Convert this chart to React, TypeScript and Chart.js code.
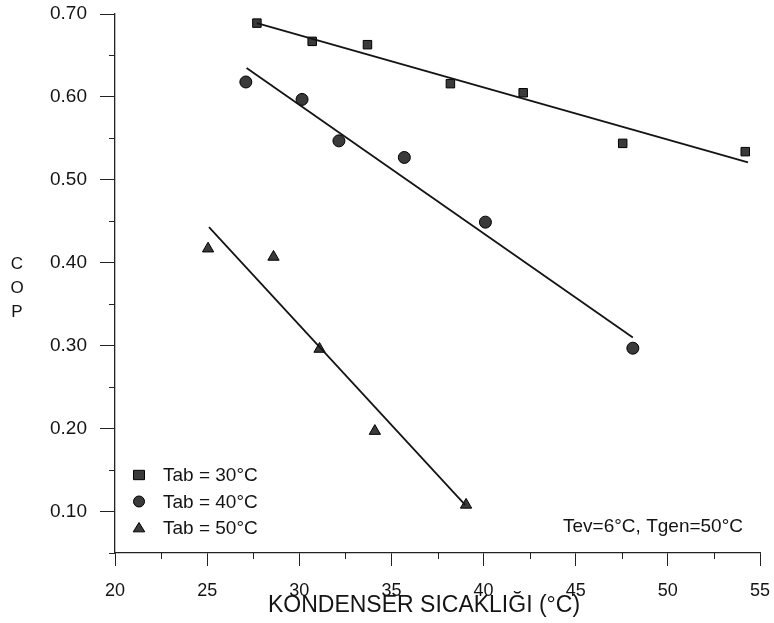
import React, { useEffect, useRef } from "react";
import { Chart, registerables } from "chart.js";

Chart.register(...registerables);

// Measured data (Kondenser sıcaklığı °C vs COP)
const temp30 = [27.7, 30.7, 33.7, 38.2, 42.15, 47.55, 54.2];
const cop30 = [0.689, 0.667, 0.663, 0.616, 0.605, 0.544, 0.534];
const temp40 = [27.1, 30.15, 32.15, 35.7, 40.1, 48.1];
const cop40 = [0.618, 0.597, 0.547, 0.527, 0.449, 0.297];
const temp50 = [25.05, 28.6, 31.1, 34.1, 39.05];
const cop50 = [0.417, 0.407, 0.296, 0.197, 0.108];

// Fitted trend lines (end points)
const fit30X = [27.7, 54.35];
const fit30Y = [0.689, 0.521];
const fit40X = [27.14, 48.1];
const fit40Y = [0.635, 0.31];
const fit50X = [25.1, 39.0];
const fit50Y = [0.443, 0.108];

// Axis ticks
const xTicks = [20, 25, 30, 35, 40, 45, 50, 55];
const xMinorTicks = [22.5, 27.5, 32.5, 37.5, 42.5, 47.5, 52.5];
const yTicks = [0.1, 0.2, 0.3, 0.4, 0.5, 0.6, 0.7];
const yMinorTicks = [0.05, 0.15, 0.25, 0.35, 0.45, 0.55, 0.65];

const legendLabels = ["Tab = 30°C", "Tab = 40°C", "Tab = 50°C"];
const pointStyles = ["rect", "circle", "triangle"];
const xTitle = "KONDENSER SICAKLIĞI (°C)";
const yTitleLetters = ["C", "O", "P"];
const noteText = "Tev=6°C, Tgen=50°C";

const FONT = "'Liberation Sans', Arial, sans-serif";
const INK = "#141414";
const MARK_FILL = "#3a3a3a";

const zip = (xs: number[], ys: number[]) => xs.map((x, i) => ({ x, y: ys[i] }));

function drawMarker(ctx: CanvasRenderingContext2D, style: string, x: number, y: number, r: number) {
  ctx.save();
  ctx.fillStyle = MARK_FILL;
  ctx.strokeStyle = "#000";
  ctx.lineWidth = 1;
  ctx.beginPath();
  if (style === "rect") {
    ctx.rect(x - r, y - r * 0.85, 2 * r, 1.7 * r);
  } else if (style === "circle") {
    ctx.arc(x, y, r, 0, Math.PI * 2);
  } else {
    ctx.moveTo(x, y - r);
    ctx.lineTo(x + r * 1.05, y + r * 0.7);
    ctx.lineTo(x - r * 1.05, y + r * 0.7);
    ctx.closePath();
  }
  ctx.fill();
  ctx.stroke();
  ctx.restore();
}

const decorPlugin = {
  id: "decor",
  afterDraw(chart: any) {
    const ctx: CanvasRenderingContext2D = chart.ctx;
    const xs = chart.scales.x;
    const ys = chart.scales.y;
    const area = chart.chartArea;
    ctx.save();
    // minor ticks
    ctx.strokeStyle = "#222";
    ctx.lineWidth = 1;
    ctx.beginPath();
    xMinorTicks.forEach((v) => {
      const px = Math.round(xs.getPixelForValue(v)) + 0.5;
      ctx.moveTo(px, area.bottom);
      ctx.lineTo(px, area.bottom + 6);
    });
    yMinorTicks.forEach((v) => {
      const py = Math.round(ys.getPixelForValue(v)) + 0.5;
      ctx.moveTo(area.left, py);
      ctx.lineTo(area.left - 6, py);
    });
    ctx.stroke();

    ctx.fillStyle = INK;
    // x title
    ctx.font = `23px ${FONT}`;
    ctx.textAlign = "center";
    ctx.textBaseline = "alphabetic";
    ctx.fillText(xTitle, 424, 612);

    // y title (stacked letters)
    ctx.font = `17px ${FONT}`;
    ctx.textBaseline = "middle";
    yTitleLetters.forEach((ch, i) => {
      ctx.fillText(ch, 17, 264 + i * 24);
    });

    // legend
    ctx.font = `19px ${FONT}`;
    ctx.textAlign = "left";
    legendLabels.forEach((lab, i) => {
      const y = 475 + i * 26.5;
      drawMarker(ctx, pointStyles[i], 139, y, 5.5);
      ctx.fillStyle = INK;
      ctx.fillText(lab, 163, y + 1);
    });

    // note
    ctx.textAlign = "right";
    ctx.fillText(noteText, 743, 527);
    ctx.restore();
  },
};

export default function App() {
  const ref = useRef<HTMLCanvasElement | null>(null);

  useEffect(() => {
    if (!ref.current) return;
    const lineDs = (xs: number[], ys: number[]) => ({
      type: "scatter" as const,
      data: zip(xs, ys),
      showLine: true,
      borderColor: INK,
      borderWidth: 1.8,
      pointRadius: 0,
      fill: false,
    });
    const markDs = (xs: number[], ys: number[], style: string) => ({
      type: "scatter" as const,
      data: zip(xs, ys),
      pointStyle: style,
      pointRadius: style === "triangle" ? 6.5 : 6,
      backgroundColor: MARK_FILL,
      borderColor: "#000",
      borderWidth: 1,
      showLine: false,
    });
    const chart = new Chart(ref.current, {
      type: "scatter",
      data: {
        datasets: [
          lineDs(fit30X, fit30Y),
          lineDs(fit40X, fit40Y),
          lineDs(fit50X, fit50Y),
          markDs(temp30, cop30, "rect"),
          markDs(temp40, cop40, "circle"),
          markDs(temp50, cop50, "triangle"),
        ] as any,
      },
      options: {
        responsive: false,
        animation: false,
        events: [],
        layout: { padding: { left: 0, top: 14, right: 14, bottom: 0 } },
        plugins: {
          legend: { display: false },
          tooltip: { enabled: false },
        },
        scales: {
          x: {
            type: "linear",
            min: 20,
            max: 55,
            afterBuildTicks: (s: any) => {
              s.ticks = xTicks.map((v) => ({ value: v }));
            },
            afterFit: (s: any) => {
              s.height = 70;
              s.paddingLeft = 0;
              s.paddingRight = 0;
            },
            ticks: {
              color: INK,
              font: { family: FONT, size: 18 },
              padding: 14,
              maxRotation: 0,
              callback: (v: any) => String(v),
            },
            grid: {
              drawOnChartArea: false,
              drawTicks: true,
              tickLength: 13,
              tickColor: "#222",
              tickWidth: 1,
            },
            border: { display: true, color: "#222", width: 1.3 },
          },
          y: {
            type: "linear",
            min: 0.05,
            max: 0.7,
            afterBuildTicks: (s: any) => {
              s.ticks = yTicks.map((v) => ({ value: v }));
            },
            afterFit: (s: any) => {
              s.width = 115;
              s.paddingTop = 0;
              s.paddingBottom = 0;
            },
            ticks: {
              color: INK,
              font: { family: FONT, size: 19 },
              padding: 13,
              callback: (v: any) => Number(v).toFixed(2),
            },
            grid: {
              drawOnChartArea: false,
              drawTicks: true,
              tickLength: 15,
              tickColor: "#222",
              tickWidth: 1,
            },
            border: { display: true, color: "#222", width: 1.3 },
          },
        },
      },
      plugins: [decorPlugin],
    });
    return () => chart.destroy();
  }, []);

  return (
    <div style={{ position: "fixed", left: 0, top: 0, width: 774, height: 623, background: "#fff" }}>
      <canvas ref={ref} width={774} height={623} style={{ display: "block", width: 774, height: 623 }} />
    </div>
  );
}
